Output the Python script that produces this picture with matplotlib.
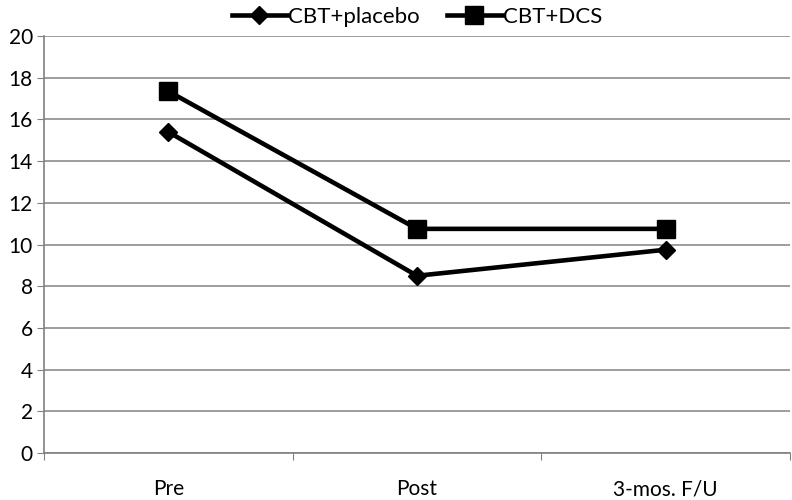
import matplotlib.pyplot as plt

categories = ['Pre', 'Post', '3-mos. F/U']
placebo = [15.4, 8.5, 9.75]
dcs = [17.35, 10.75, 10.75]

plt.rcParams['font.family'] = ['Lato', 'DejaVu Sans']

fig = plt.figure(figsize=(7.92, 5.0), dpi=100)
ax = fig.add_axes([44 / 792, 47 / 500, 746 / 792, 417 / 500])

x = [0.5, 1.5, 2.5]
ax.plot(x, placebo, color='black', lw=3.3, marker='D', markersize=9, label='CBT+placebo')
ax.plot(x, dcs, color='black', lw=3.3, marker='s', markersize=13, label='CBT+DCS')

ax.set_xlim(0, 3)
ax.set_ylim(0, 20)
ax.set_yticks(range(0, 21, 2))
ax.set_xticks([0, 1, 2, 3])
ax.set_xticklabels([])
ax.set_xticks(x, minor=True)
ax.set_xticklabels(categories, minor=True)
ax.tick_params(axis='x', which='minor', length=0, labelsize=15, pad=19)
ax.tick_params(axis='x', which='major', length=5, color='#808080')
ax.tick_params(axis='y', length=5, color='#808080', labelsize=15, pad=3)

ax.grid(axis='y', color='#8c8c8c', lw=1.2)
ax.set_axisbelow(True)
for s in ['top', 'right']:
    ax.spines[s].set_visible(False)
for s in ['left', 'bottom']:
    ax.spines[s].set_color('#808080')
    ax.spines[s].set_linewidth(1.2)

ax.legend(loc='lower center', bbox_to_anchor=(0.5, 1.0), ncol=2, frameon=False,
          fontsize=16, handlelength=2.5, handletextpad=0.05, columnspacing=1.2,
          borderaxespad=0.0)

fig.savefig('out.png', dpi=100)
